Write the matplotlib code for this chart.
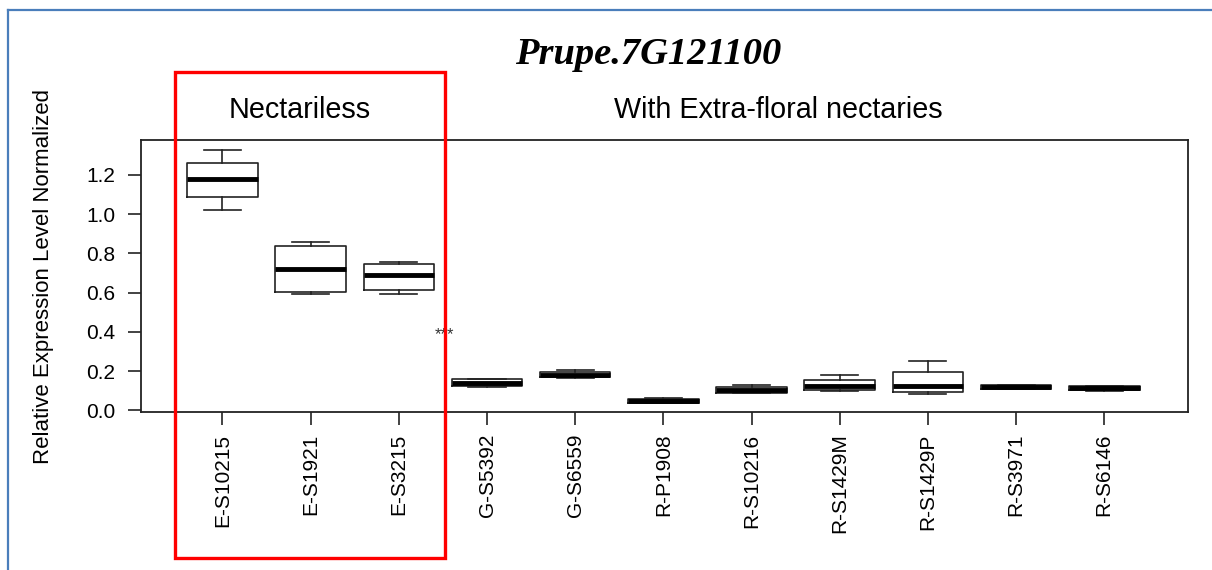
import matplotlib.pyplot as plt
from matplotlib.patches import Rectangle
from matplotlib.lines import Line2D

plt.rcParams["font.family"] = ["Liberation Sans", "DejaVu Sans"]

samples = ["E-S10215", "E-S1921", "E-S3215", "G-S5392", "G-S6559", "R-P1908",
           "R-S10216", "R-S1429M", "R-S1429P", "R-S3971", "R-S6146"]
whislo = [1.023, 0.595, 0.595, 0.118, 0.165, 0.038, 0.088, 0.100, 0.085, 0.108, 0.100]
q1 = [1.089, 0.606, 0.616, 0.122, 0.168, 0.040, 0.090, 0.105, 0.092, 0.110, 0.102]
med = [1.180, 0.723, 0.692, 0.140, 0.180, 0.050, 0.105, 0.125, 0.125, 0.120, 0.112]
q3 = [1.262, 0.840, 0.748, 0.158, 0.198, 0.058, 0.120, 0.155, 0.198, 0.128, 0.122]
whishi = [1.328, 0.860, 0.755, 0.162, 0.205, 0.062, 0.128, 0.180, 0.250, 0.130, 0.125]

title = "Prupe.7G121100"
groups = ["Nectariless", "With Extra-floral nectaries"]

fig = plt.figure(figsize=(12.12, 5.70), dpi=100)
ax = fig.add_axes([141/1212, 1-412/570, (1188-141)/1212, (412-140)/570])

stats = []
for i in range(len(samples)):
    stats.append(dict(label=samples[i], whislo=whislo[i], q1=q1[i], med=med[i],
                      q3=q3[i], whishi=whishi[i], fliers=[]))

ax.bxp(stats, positions=range(1, len(samples)+1), widths=0.8, capwidths=0.42,
       boxprops=dict(color="#222222", linewidth=1.2),
       whiskerprops=dict(color="#222222", linewidth=1.2),
       capprops=dict(color="#222222", linewidth=1.2),
       medianprops=dict(color="black", linewidth=3.5))

ax.set_xlim(0.076, 11.95)
ax.set_ylim(-0.008, 1.378)
ax.set_yticks([0.0, 0.2, 0.4, 0.6, 0.8, 1.0, 1.2])
ax.set_yticklabels(["0.0", "0.2", "0.4", "0.6", "0.8", "1.0", "1.2"])
ax.set_xticks(range(1, len(samples)+1))
ax.set_xticklabels(samples, rotation=90)
ax.tick_params(axis="both", labelsize=15, length=9.5, width=1.2, color="#222222")
ax.tick_params(axis="y", pad=9)
ax.tick_params(axis="x", pad=6)
for s in ax.spines.values():
    s.set_color("#222222")
    s.set_linewidth(1.3)
ax.set_ylabel("Relative Expression Level Normalized", fontsize=16)
ax.yaxis.set_label_coords(-0.0831, 0.5)

ax.text(1.88, 1.531, groups[0], fontsize=20.7, ha="center", va="center", clip_on=False)
ax.text(7.30, 1.531, groups[1], fontsize=20.7, ha="center", va="center", clip_on=False)
ax.text(3.52, 0.385, "***", fontsize=12, ha="center", va="center", color="#333333")

fig.text(648/1212, 1-55/570, title, fontsize=27.7, fontweight="bold", fontstyle="italic",
         family="Liberation Serif", ha="center", va="center")

# blue frame of the screenshot
fig.add_artist(Line2D([8/1212, 8/1212], [0, 1-10/570], color="#4a7ebb", linewidth=1.6))
fig.add_artist(Line2D([8/1212, 1], [1-10/570, 1-10/570], color="#4a7ebb", linewidth=1.6))

# red highlight box
fig.add_artist(Rectangle((175/1212, 1-558/570), 270/1212, 486/570, fill=False,
                         edgecolor="red", linewidth=2.4, transform=fig.transFigure))

fig.savefig("out.png", dpi=100)
